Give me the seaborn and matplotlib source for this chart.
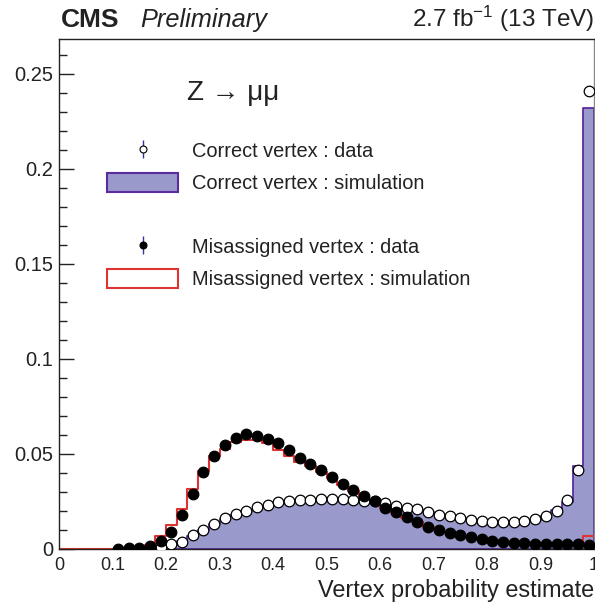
import matplotlib
matplotlib.use("Agg")
import matplotlib.pyplot as plt
import numpy as np
import pandas as pd
import seaborn as sns
from matplotlib.lines import Line2D
from matplotlib.patches import Patch
from matplotlib.legend_handler import HandlerTuple

# bins: 50 bins of width 0.02 on [0, 1]
edges = np.linspace(0, 1, 51)
centers = (edges[:-1] + edges[1:]) / 2

# Correct vertex : simulation (filled)
sim_correct = [0, 0, 0, 0, 0, 0, 0, 0, 0.0003, 0.001,
               0.002, 0.004, 0.0068, 0.0098, 0.013, 0.0158, 0.018, 0.0198, 0.0213, 0.0226,
               0.0236, 0.0243, 0.0248, 0.0251, 0.0253, 0.0253, 0.0252, 0.025, 0.0246, 0.024,
               0.0233, 0.0224, 0.0214, 0.0204, 0.0193, 0.0182, 0.0172, 0.0162, 0.0154, 0.0147,
               0.0142, 0.014, 0.014, 0.0145, 0.0155, 0.0172, 0.0205, 0.0245, 0.0437, 0.232]

# Misassigned vertex : simulation (red outline)
sim_wrong = [0, 0, 0, 0, 0, 0, 0, 0, 0.002, 0.0068,
             0.0125, 0.0212, 0.0316, 0.041, 0.0488, 0.0525, 0.0561, 0.0572, 0.0572, 0.0556,
             0.0521, 0.049, 0.046, 0.0435, 0.0405, 0.0372, 0.0338, 0.0305, 0.0275, 0.0248,
             0.0218, 0.0192, 0.0165, 0.014, 0.0118, 0.0102, 0.0088, 0.0075, 0.0064, 0.0053,
             0.0046, 0.004, 0.0035, 0.0031, 0.0029, 0.0027, 0.0026, 0.0026, 0.0027, 0.0068]

# Correct vertex : data (open circles), bins from 0.17
x_correct = centers[8:]
data_correct = [0.0002, 0.0012, 0.0025, 0.0039, 0.0072, 0.01, 0.0132, 0.0163, 0.0184, 0.0202,
                0.0219, 0.0232, 0.0246, 0.0251, 0.0257, 0.026, 0.0263, 0.0263, 0.0263, 0.026,
                0.0253, 0.025, 0.0242, 0.0228, 0.0218, 0.0209, 0.0195, 0.018, 0.0172, 0.0163,
                0.0154, 0.0146, 0.0142, 0.014, 0.014, 0.0147, 0.0158, 0.0172, 0.0202, 0.0258,
                0.0416, 0.241]

# Misassigned vertex : data (filled dots), bins from 0.11
x_wrong = centers[5:]
data_wrong = [0.0002, 0.0003, 0.0006, 0.0017, 0.004, 0.0088, 0.0177, 0.029, 0.0405, 0.0488,
              0.0546, 0.0582, 0.0605, 0.0595, 0.0579, 0.0558, 0.0521, 0.048, 0.0447, 0.0414,
              0.038, 0.0342, 0.0309, 0.0277, 0.0251, 0.0218, 0.0195, 0.0168, 0.0142, 0.0116,
              0.01, 0.0086, 0.0074, 0.0063, 0.0051, 0.0044, 0.0039, 0.0033, 0.003, 0.0028,
              0.0026, 0.0026, 0.0026, 0.0026, 0.0021]

df_sim = pd.DataFrame({"center": centers, "correct": sim_correct, "wrong": sim_wrong})

sns.set_style("ticks")
plt.rcParams["font.family"] = ["Liberation Sans", "DejaVu Sans"]
plt.rcParams["mathtext.fontset"] = "custom"
plt.rcParams["mathtext.rm"] = "Liberation Sans"
plt.rcParams["mathtext.it"] = "Liberation Sans:italic"

fill_col = "#9999cc"
edge_col = "#5b2c9e"
red_col = "#dd3333"
bar_col = "#3333aa"
txt_col = "#222222"

# axes box: x 59..594 px, y 39..549 px
fig = plt.figure(figsize=(5.95, 6.04), dpi=100)
ax = fig.add_axes([59 / 595, 1 - 549 / 604, 535 / 595, 510 / 604])

sns.histplot(data=df_sim, x="center", weights="correct", binwidth=0.02, binrange=(0, 1),
             element="step", fill=True, facecolor=fill_col, edgecolor=edge_col, alpha=1,
             linewidth=1.3, ax=ax, zorder=1)
sns.histplot(data=df_sim, x="center", weights="wrong", binwidth=0.02, binrange=(0, 1),
             element="step", fill=False, color=red_col, linewidth=1.5, ax=ax, zorder=2)
sns.scatterplot(x=x_correct, y=data_correct, marker="o", s=58, color="white",
                edgecolor="black", linewidth=0.9, ax=ax, zorder=3)
sns.scatterplot(x=x_wrong, y=data_wrong, marker="o", s=58, color="black",
                edgecolor="black", linewidth=0.9, ax=ax, zorder=4)

ax.set_xlim(0, 1)
ax.set_ylim(0, 0.2684)
ax.set_xticks(np.arange(0, 1.01, 0.1))
ax.set_xticklabels(["0", "0.1", "0.2", "0.3", "0.4", "0.5", "0.6", "0.7", "0.8", "0.9", "1"])
ax.set_yticks([0, 0.05, 0.1, 0.15, 0.2, 0.25])
ax.set_yticklabels(["0", "0.05", "0.1", "0.15", "0.2", "0.25"])
ax.set_yticks(np.arange(0, 0.265, 0.01), minor=True)
ax.tick_params(axis="y", which="major", direction="in", length=11, width=1, labelsize=14.5, pad=4, colors=txt_col)
ax.tick_params(axis="y", which="minor", direction="in", length=6, width=1, colors=txt_col)
ax.tick_params(axis="x", which="both", length=0, labelsize=13, pad=6, colors=txt_col)
ax.set_ylabel("")
ax.set_xlabel("Vertex probability estimate", fontsize=16.9, loc="right", labelpad=3, color=txt_col)
for side in ["left", "bottom", "top"]:
    ax.spines[side].set_color(txt_col)
    ax.spines[side].set_linewidth(1)
ax.spines["right"].set_color("#888888")
ax.spines["right"].set_linewidth(1)

# header texts (baseline ~12 px above the frame)
base_y = 1 + 12 / 510
ax.text(2 / 535, base_y, "CMS", transform=ax.transAxes, fontsize=19, fontweight="bold",
        ha="left", va="baseline", color=txt_col)
ax.text((140 - 59) / 535, base_y, "Preliminary", transform=ax.transAxes, fontsize=18.3, style="italic",
        ha="left", va="baseline", color=txt_col)
ax.text(1.0, base_y, r"2.7 fb$^{-1}$ (13 TeV)", transform=ax.transAxes, fontsize=17.5,
        ha="right", va="baseline", color=txt_col)
ax.text((187 - 59) / 535, (549 - 93) / 510, "Z → μμ", transform=ax.transAxes, fontsize=20,
        ha="left", va="center", color=txt_col)

# legend
h_cd = (Line2D([], [], marker="|", ls="none", color=bar_col, markersize=13, markeredgewidth=1),
        Line2D([], [], marker="o", ls="none", markerfacecolor="white", markeredgecolor="black",
               markersize=5, markeredgewidth=0.8))
h_cs = Patch(facecolor=fill_col, edgecolor=edge_col, linewidth=1.5)
h_blank = Line2D([], [], ls="none")
h_wd = (Line2D([], [], marker="|", ls="none", color=bar_col, markersize=13, markeredgewidth=1),
        Line2D([], [], marker="o", ls="none", markerfacecolor="black", markeredgecolor="black",
               markersize=5, markeredgewidth=0.8))
h_ws = Patch(facecolor="white", edgecolor=red_col, linewidth=1.5)
leg = ax.legend([h_cd, h_cs, h_blank, h_wd, h_ws],
                ["Correct vertex : data", "Correct vertex : simulation", " ",
                 "Misassigned vertex : data", "Misassigned vertex : simulation"],
                handler_map={tuple: HandlerTuple(ndivide=1)},
                loc="upper left", bbox_to_anchor=((107 - 59) / 535, (549 - 141) / 510),
                frameon=False, fontsize=14.4, borderpad=0, borderaxespad=0,
                handlelength=3.55, handleheight=1.1, handletextpad=0.7, labelspacing=0.58)
for t in leg.get_texts():
    t.set_color(txt_col)

fig.savefig("out.png", dpi=100)
